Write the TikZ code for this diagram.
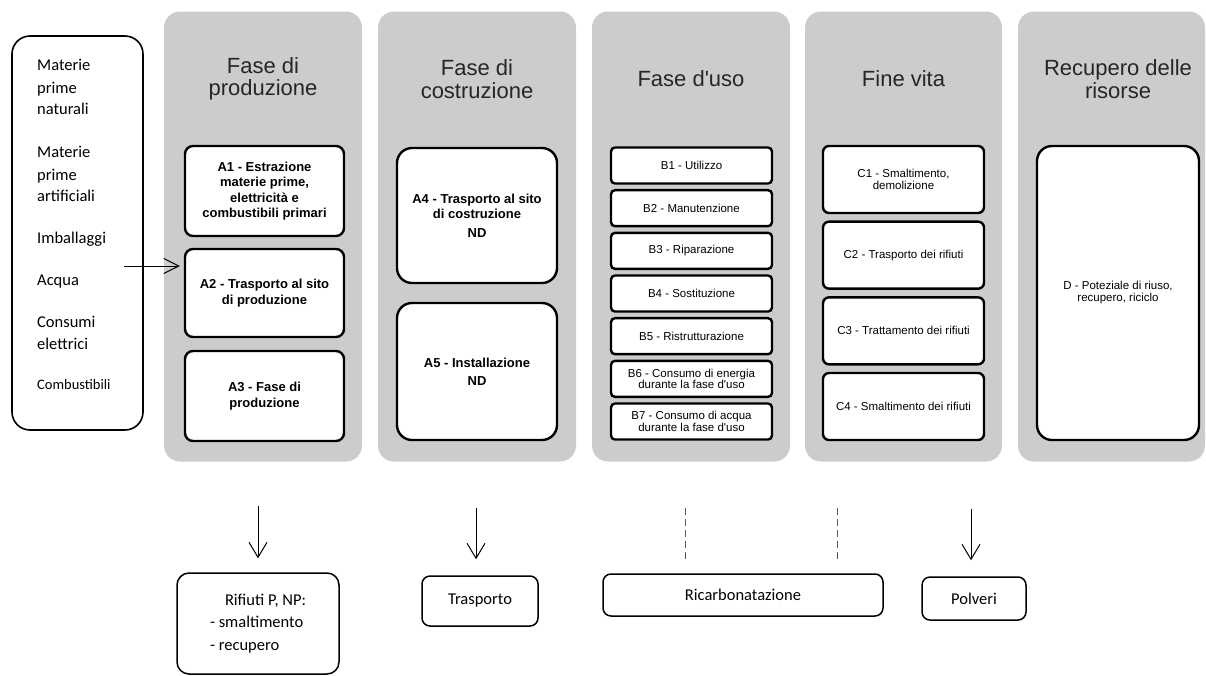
\documentclass[tikz,border=0pt]{standalone}
\usepackage{fontspec}
\setmainfont{Liberation Sans}
\newfontfamily\calibri{Carlito}
\usetikzlibrary{arrows.meta,%
		positioning}
\definecolor{grigiofase}{HTML}{CCCCCC}
\definecolor{titolo}{HTML}{262626}
\tikzset{
  fase/.style={fill=grigiofase, rounded corners=16pt, minimum height=450pt, inner sep=0pt},
  titolofase/.style={text=titolo, align=center, font=\fontsize{22}{22.5}\selectfont},
  modulo/.style={draw, line width=2.4pt, fill=white, align=center, inner sep=1pt, rounded corners=#1},
  modulo/.default=8pt,
  testoA/.style={font=\fontsize{13}{15.3}\selectfont\bfseries},
  testoB/.style={font=\fontsize{11.5}{11.7}\selectfont},
  voce/.style={inner sep=0pt, anchor=base west, font=\calibri\fontsize{16.5}{20}\selectfont},
  uscita/.style={draw, line width=1.5pt, fill=white, align=left, rounded corners=#1, font=\calibri\fontsize{16.5}{22.5}\selectfont},
  uscita/.default=8pt,
  freccia/.style={-{Straight Barb[length=15pt,width=18pt]}, line width=1pt},
  tratteggio/.style={draw=black!65, line width=1pt, dash pattern=on 7pt off 4pt}
}
\begin{document}
\begin{tikzpicture}[x=1pt,y=-1pt]
\useasboundingbox (0,0) rectangle (1206,675);

%colonne grigie
\node[fase, minimum width=198pt] (colA) at (263,236.5) {};
\node[fase, minimum width=198pt] (colB) at (477,236.5) {};
\node[fase, minimum width=198pt] (colC) at (691,236.5) {};
\node[fase, minimum width=197pt] (colD) at (903.5,236.5) {};
\node[fase, minimum width=187pt] (colE) at (1111.5,236.5) {};
\node[titolofase] (tA) at (263,79) {Fase di\\produzione};
\node[titolofase] (tB) at (477,79) {Fase di\\costruzione};
\node[titolofase] (tC) at (691,79) {Fase d\textquotesingle uso};
\node[titolofase] (tD) at (903.5,79) {Fine vita};
\node[titolofase] (tE) at (1118,79) {Recupero delle\\risorse};

%ingressi
\node[draw, line width=1.6pt, rounded corners=18pt, minimum width=131pt, minimum height=394pt] (ingressi) at (77.5,233) {};
\foreach \t/\y [count=\k] in {Materie/65,prime/88,naturali/109,Materie/152,prime/175,artificiali/196,Imballaggi/238,Acqua/280,Consumi/322,elettrici/344}
  \node[voce] (voce\k) at (37,\y+5) {\t};
\node[voce, font=\calibri\fontsize{14.5}{17}\selectfont] (voce11) at (37,389) {Combustibili};

%fase di produzione
\node[modulo, testoA, minimum width=159pt, minimum height=90pt] (A1) at (264.5,191) {A1 - Estrazione\\materie prime,\\elettricità e\\combustibili primari};
\node[modulo, testoA, minimum width=159pt, minimum height=88pt] (A2) at (264.5,293) {A2 - Trasporto al sito\\di produzione};
\node[modulo, testoA, minimum width=159pt, minimum height=90pt] (A3) at (264.5,396) {A3 - Fase di\\produzione};

%fase di costruzione
\node[modulo=15pt, testoA, minimum width=160pt, minimum height=135pt] (A4) at (477,215.5) {A4 - Trasporto al sito\\di costruzione\\[3pt]ND};
\node[modulo=15pt, testoA, minimum width=160pt, minimum height=137pt] (A5) at (477,371.5) {A5 - Installazione\\[3pt]ND};

%fase d'uso
\foreach \t [count=\i] in {B1 - Utilizzo,B2 - Manutenzione,B3 - Riparazione,B4 - Sostituzione,B5 - Ristrutturazione,B6 - Consumo di energia\\durante la fase d\textquotesingle uso,B7 - Consumo di acqua\\durante la fase d\textquotesingle uso}
  \node[modulo=4pt, testoB, minimum width=161pt, minimum height=36pt] (B\i) at (691.5,165.5+42.67*\i-42.67) {\t};

%fine vita
\foreach \t [count=\i] in {{C1 - Smaltimento,\\demolizione},C2 - Trasporto dei rifiuti,C3 - Trattamento dei rifiuti,C4 - Smaltimento dei rifiuti}
  \node[modulo=6pt, testoB, minimum width=161pt, minimum height=67pt] (C\i) at (903.5,179.5+75.67*\i-75.67) {\t};

%recupero delle risorse
\node[modulo=15pt, testoB, font=\fontsize{11.5}{12}\selectfont, minimum width=162pt, minimum height=294pt] (D) at (1118,293) {D - Poteziale di riuso,\\recupero, riciclo};

\coordinate (ingresso) at (124,266);
\draw[freccia, -{Straight Barb[length=15pt,width=15pt]}, shorten >=4pt] (ingresso) -- (ingresso -| A2.west);

%uscite
\node[uscita=12pt, minimum width=162pt, minimum height=101pt] (rifiuti) at (258,623.5) {\hspace*{15pt}Rifiuti P, NP:\\- smaltimento\\- recupero};
\node[uscita, minimum width=116pt, minimum height=50pt] (trasporto) at (480,601) {Trasporto};
\node[uscita, minimum width=280pt, minimum height=42pt] (ricarb) at (743,595) {Ricarbonatazione};
\node[uscita, minimum width=104pt, minimum height=43pt] (polveri) at (974,598.5) {Polveri};

\coordinate (uA) at (258,506);
\coordinate (uB) at (476,508);
\coordinate (uC) at (971,509);
\coordinate (tr1) at (685,508);
\coordinate (tr2) at (837,508);
\draw[freccia, shorten >=14pt] (uA) -- (uA |- rifiuti.north);
\draw[freccia, shorten >=16pt] (uB) -- (uB |- trasporto.north);
\draw[freccia, shorten >=16pt] (uC) -- (uC |- polveri.north);
\draw[tratteggio, shorten >=13pt] (tr1) -- (tr1 |- ricarb.north);
\draw[tratteggio, shorten >=13pt] (tr2) -- (tr2 |- ricarb.north);
\end{tikzpicture}
\end{document}
